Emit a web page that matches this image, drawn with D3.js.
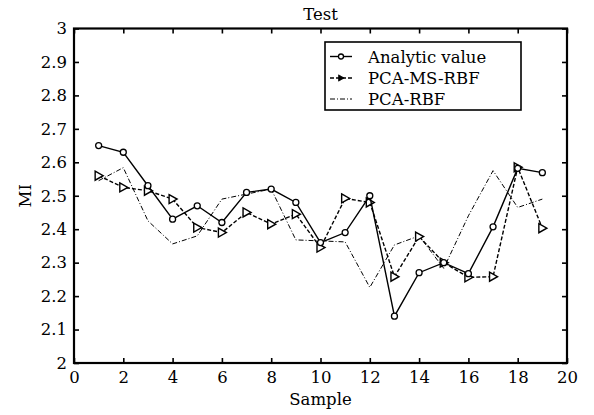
<!DOCTYPE html>
<html lang="en">
<head>
<meta charset="utf-8">
<title>Test</title>
<script src="https://cdn.jsdelivr.net/npm/d3@7"></script>
<style>
  body { margin: 0; background: #fff; }
  text { font-family: "DejaVu Serif", serif; fill: #000; }
</style>
</head>
<body>
<script>
// data
var samples = [1,2,3,4,5,6,7,8,9,10,11,12,13,14,15,16,17,18,19];
var analytic = [2.65,2.63,2.53,2.43,2.47,2.42,2.51,2.52,2.48,2.36,2.39,2.50,2.14,2.27,2.30,2.267,2.407,2.582,2.569];
var pcaMsRbf = [2.56,2.525,2.515,2.49,2.405,2.39,2.45,2.415,2.445,2.345,2.492,2.48,2.258,2.378,2.30,2.256,2.258,2.585,2.403];
var pcaRbf   = [2.545,2.584,2.425,2.356,2.38,2.49,2.505,2.52,2.368,2.365,2.362,2.226,2.353,2.38,2.283,2.44,2.575,2.465,2.49];
var xTicks = [0,2,4,6,8,10,12,14,16,18,20];
var yTicks = [2,2.1,2.2,2.3,2.4,2.5,2.6,2.7,2.8,2.9,3];
var seriesNames = ["Analytic value","PCA-MS-RBF","PCA-RBF"];

var W = 594, H = 415;
var margin = {top: 28.5, right: 27, bottom: 52, left: 74};
var width = W - margin.left - margin.right,
    height = H - margin.top - margin.bottom;
var fs = "16.5px";

var svg = d3.select("body").append("svg")
    .attr("width", W)
    .attr("height", H);

var g = svg.append("g")
    .attr("transform", "translate(" + margin.left + "," + margin.top + ")");

var xScale = d3.scaleLinear().domain([0, 20]).range([0, width]);
var yScale = d3.scaleLinear().domain([2, 3]).range([height, 0]);

// axes, ticks pointing inward
var fmtY = function(d) { return d3.format("")(+d.toFixed(1)); };
var xAxis = d3.axisBottom(xScale).tickValues(xTicks).tickSizeInner(-5).tickSizeOuter(0).tickPadding(8);
var xAxisTop = d3.axisTop(xScale).tickValues(xTicks).tickSizeInner(-5).tickSizeOuter(0).tickFormat("");
var yAxis = d3.axisLeft(yScale).tickValues(yTicks).tickSizeInner(-5).tickSizeOuter(0).tickPadding(7).tickFormat(fmtY);
var yAxisRight = d3.axisRight(yScale).tickValues(yTicks).tickSizeInner(-5).tickSizeOuter(0).tickFormat("");

function styleAxis(sel) {
  sel.select(".domain").remove();
  sel.selectAll("line").attr("stroke", "#000").attr("stroke-width", 1.6);
  sel.selectAll("text").style("font-family", "DejaVu Serif, serif").style("font-size", fs).attr("fill", "#000");
}

g.append("g").attr("transform", "translate(0," + height + ")").call(xAxis).call(styleAxis);
g.append("g").call(xAxisTop).call(styleAxis);
g.append("g").call(yAxis).call(styleAxis);
g.append("g").attr("transform", "translate(" + width + ",0)").call(yAxisRight).call(styleAxis);

// frame
g.append("rect")
  .attr("width", width).attr("height", height)
  .attr("fill", "none").attr("stroke", "#000").attr("stroke-width", 2.2);

var line = d3.line()
  .x(function(d) { return xScale(d[0]); })
  .y(function(d) { return yScale(d[1]); });

function pairs(vals) { return samples.map(function(s, i) { return [s, vals[i]]; }); }

// PCA-RBF (dash-dot, thin)
g.append("path").datum(pairs(pcaRbf))
  .attr("d", line).attr("fill", "none").attr("stroke", "#000")
  .attr("stroke-width", 1).attr("stroke-dasharray", "5,2,1,2");

// PCA-MS-RBF (dashed, triangles)
g.append("path").datum(pairs(pcaMsRbf))
  .attr("d", line).attr("fill", "none").attr("stroke", "#000")
  .attr("stroke-width", 1.4).attr("stroke-dasharray", "4,2");

var tri = "M-3.5,-4.5L4.5,0L-3.5,4.5Z";
g.selectAll(".tri").data(pairs(pcaMsRbf)).enter().append("path")
  .attr("class", "tri")
  .attr("transform", function(d) { return "translate(" + xScale(d[0]) + "," + yScale(d[1]) + ")"; })
  .attr("d", tri).attr("fill", "#fff").attr("stroke", "#000").attr("stroke-width", 1.4);

// Analytic value (solid, circles)
g.append("path").datum(pairs(analytic))
  .attr("d", line).attr("fill", "none").attr("stroke", "#000").attr("stroke-width", 1.4);

g.selectAll(".dot").data(pairs(analytic)).enter().append("circle")
  .attr("class", "dot")
  .attr("cx", function(d) { return xScale(d[0]); })
  .attr("cy", function(d) { return yScale(d[1]); })
  .attr("r", 3).attr("fill", "#fff").attr("stroke", "#000").attr("stroke-width", 1.3);

// title and axis labels
svg.append("text").attr("x", margin.left + width / 2).attr("y", 20)
  .attr("text-anchor", "middle").style("font-size", fs).text("Test");
svg.append("text").attr("x", margin.left + width / 2).attr("y", 405)
  .attr("text-anchor", "middle").style("font-size", fs).text("Sample");
svg.append("text").attr("transform", "translate(31," + (margin.top + height / 2) + ") rotate(-90)")
  .attr("text-anchor", "middle").style("font-size", fs).text("MI");

// legend
var leg = svg.append("g").attr("transform", "translate(325,42)");
leg.append("rect").attr("width", 196).attr("height", 68)
  .attr("fill", "#fff").attr("stroke", "#000").attr("stroke-width", 1.6);
var rowY = [14.5, 36, 57];
var dashes = [null, "4,2", "5,2,1,2"];
var widths = [1.4, 1.4, 1];
seriesNames.forEach(function(name, i) {
  var r = leg.append("g").attr("transform", "translate(0," + rowY[i] + ")");
  r.append("line").attr("x1", 5).attr("x2", 27).attr("stroke", "#000")
    .attr("stroke-width", widths[i]).attr("stroke-dasharray", dashes[i]);
  if (i === 0) r.append("circle").attr("cx", 16).attr("r", 2.5).attr("fill", "#fff").attr("stroke", "#000").attr("stroke-width", 1.3);
  if (i === 1) r.append("path").attr("transform", "translate(16,0) scale(0.7)").attr("d", tri).attr("fill", "#000").attr("stroke", "#000");
  r.append("text").attr("x", 43).attr("y", 6).style("font-size", fs).text(name);
});
</script>
</body>
</html>
